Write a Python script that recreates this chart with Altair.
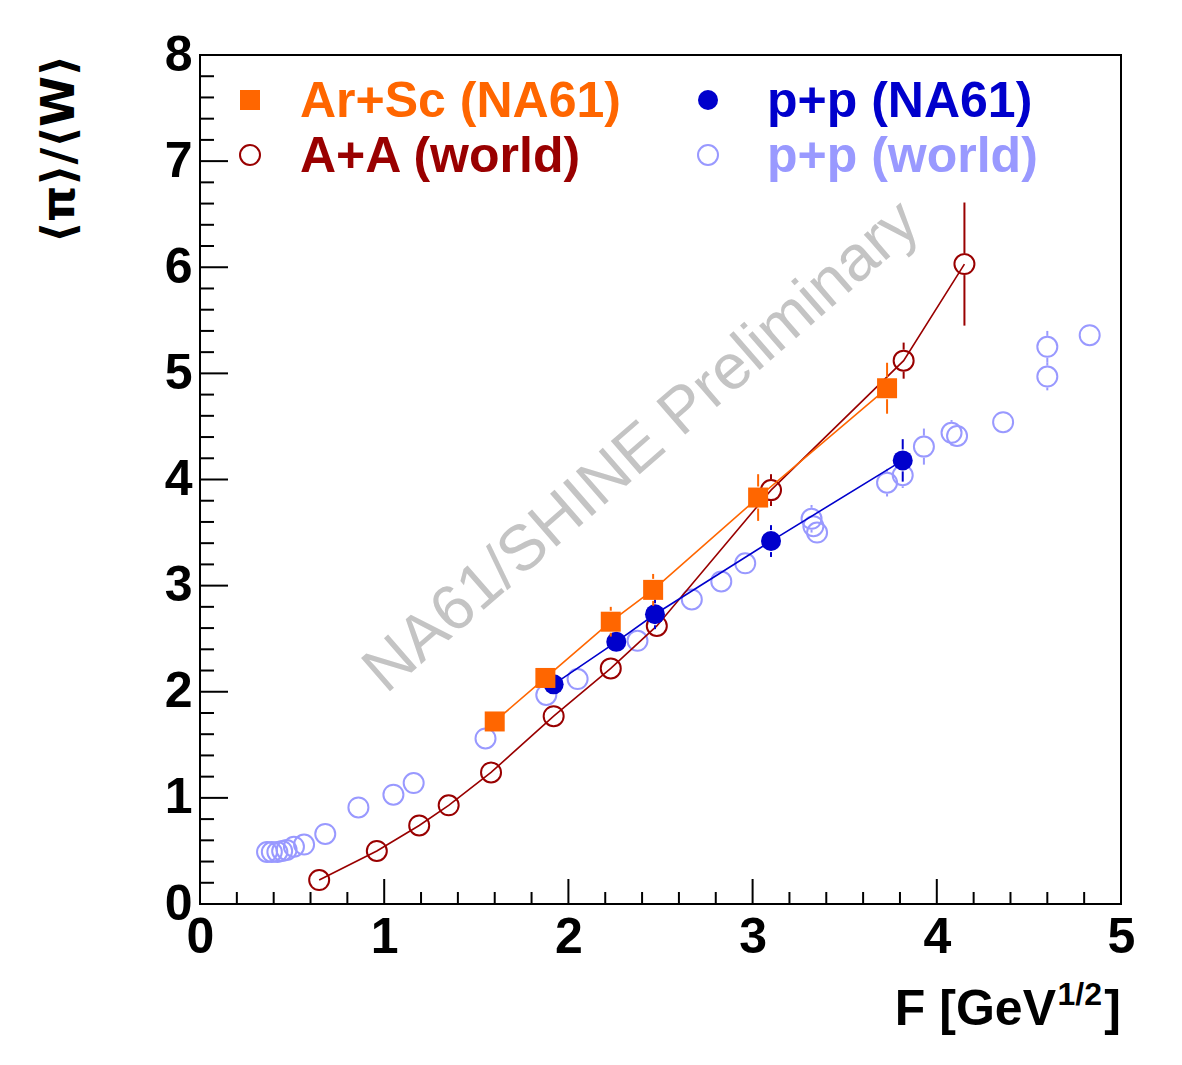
import altair as alt
import pandas as pd

# ---------------- data ----------------
# A+A (world)
aa_x = [0.647, 0.96, 1.19, 1.35, 1.58, 1.92, 2.23, 2.48, 3.10, 3.82, 4.15]
aa_y = [0.226, 0.50, 0.74, 0.93, 1.24, 1.77, 2.22, 2.62, 3.90, 5.12, 6.03]
aa_err = [0.02, 0.03, 0.03, 0.03, 0.04, 0.05, 0.06, 0.06, 0.15, 0.17, 0.58]

# Ar+Sc (NA61)
arsc_x = [1.60, 1.875, 2.23, 2.46, 3.03, 3.73]
arsc_y = [1.72, 2.13, 2.66, 2.96, 3.83, 4.86]
arsc_err = [0.06, 0.08, 0.14, 0.15, 0.22, 0.24]

# p+p (NA61)
pp_x = [1.92, 2.26, 2.47, 3.10, 3.815]
pp_y = [2.07, 2.47, 2.73, 3.42, 4.18]
pp_err = [0.05, 0.06, 0.14, 0.15, 0.20]

# p+p (world)
ppw_x = [0.364, 0.39, 0.42, 0.446, 0.47, 0.51, 0.565, 0.68, 0.86, 1.05, 1.16,
         1.55, 1.88, 2.05, 2.375, 2.67, 2.83, 2.96, 3.32, 3.33, 3.35, 3.73,
         3.815, 3.93, 4.08, 4.11, 4.36, 4.60, 4.60, 4.83]
ppw_y = [0.49, 0.49, 0.49, 0.50, 0.51, 0.54, 0.56, 0.66, 0.91, 1.03, 1.14,
         1.56, 1.97, 2.12, 2.48, 2.87, 3.04, 3.21, 3.63, 3.56, 3.50, 3.97,
         4.04, 4.31, 4.44, 4.41, 4.54, 4.97, 5.25, 5.36]
ppw_err = [0.01, 0.01, 0.01, 0.01, 0.01, 0.01, 0.01, 0.02, 0.03, 0.03, 0.04,
           0.05, 0.06, 0.06, 0.07, 0.08, 0.08, 0.09, 0.13, 0.10, 0.10, 0.13,
           0.12, 0.17, 0.12, 0.10, 0.10, 0.13, 0.15, 0.10]

x_major = [0, 1, 2, 3, 4, 5]
x_minor = [0.2, 0.4, 0.6, 0.8, 1.2, 1.4, 1.6, 1.8, 2.2, 2.4, 2.6, 2.8,
           3.2, 3.4, 3.6, 3.8, 4.2, 4.4, 4.6, 4.8]
y_major = [0, 1, 2, 3, 4, 5, 6, 7, 8]
y_minor = [0.2, 0.4, 0.6, 0.8, 1.2, 1.4, 1.6, 1.8, 2.2, 2.4, 2.6, 2.8,
           3.2, 3.4, 3.6, 3.8, 4.2, 4.4, 4.6, 4.8, 5.2, 5.4, 5.6, 5.8,
           6.2, 6.4, 6.6, 6.8, 7.2, 7.4, 7.6, 7.8]

legend_labels = ["Ar+Sc (NA61)", "A+A (world)", "p+p (NA61)", "p+p (world)"]
watermark = "NA61/SHINE Preliminary"

# ---------------- styling ----------------
W, H = 921, 849
FONT = "Liberation Sans"
C_ARSC = "#ff6600"
C_AA = "#990000"
C_PP = "#0000cc"
C_PPW = "#9999ff"
MSIZE = 400
R_UNITS = 11 * 8 / H  # marker radius in y units (for error bars outside markers)

xs = alt.Scale(domain=[0, 5], nice=False, zero=False)
ys = alt.Scale(domain=[0, 8], nice=False, zero=False)
xaxis = alt.Axis(values=x_major, ticks=False, domain=False, grid=False,
                 labelFont=FONT, labelFontWeight="bold", labelFontSize=50,
                 labelColor="black", labelPadding=8, labelOverlap=False,
                 labelFlush=False, labelBound=False, title=None, format="d")
yaxis = alt.Axis(values=y_major, ticks=False, domain=False, grid=False,
                 labelFont=FONT, labelFontWeight="bold", labelFontSize=50,
                 labelColor="black", labelPadding=8, labelOverlap=False,
                 labelFlush=False, labelBound=False, title=None, format="d")


def X(f):
    return alt.X(f, type="quantitative", scale=xs, axis=xaxis)


def Y(f):
    return alt.Y(f, type="quantitative", scale=ys, axis=yaxis)


def frame(xv, yv, ev):
    df = pd.DataFrame({"x": xv, "y": yv, "e": ev})
    df["i"] = range(len(df))
    return df


def errsegs(df):
    rows = []
    for _, r in df.iterrows():
        if r["e"] > R_UNITS:
            rows.append({"x": r["x"], "lo": r["y"] + R_UNITS, "hi": r["y"] + r["e"]})
            rows.append({"x": r["x"], "lo": r["y"] - r["e"], "hi": r["y"] - R_UNITS})
    if not rows:
        rows = [{"x": 0, "lo": 0, "hi": 0}]
    return pd.DataFrame(rows)


aa = frame(aa_x, aa_y, aa_err)
arsc = frame(arsc_x, arsc_y, arsc_err)
pp = frame(pp_x, pp_y, pp_err)
ppw = frame(ppw_x, ppw_y, ppw_err)

layers = []

# ticks (inside the frame, ROOT style)
layers.append(alt.Chart(pd.DataFrame({"v": x_major})).mark_rule(color="black", strokeWidth=2)
              .encode(x=X("v"), y=alt.value(H), y2=alt.value(H - 25)))
layers.append(alt.Chart(pd.DataFrame({"v": x_minor})).mark_rule(color="black", strokeWidth=2)
              .encode(x=X("v"), y=alt.value(H), y2=alt.value(H - 12)))
layers.append(alt.Chart(pd.DataFrame({"v": y_major})).mark_rule(color="black", strokeWidth=2)
              .encode(y=Y("v"), x=alt.value(0), x2=alt.value(28)))
layers.append(alt.Chart(pd.DataFrame({"v": y_minor})).mark_rule(color="black", strokeWidth=2)
              .encode(y=Y("v"), x=alt.value(0), x2=alt.value(14)))

# watermark
layers.append(alt.Chart(pd.DataFrame({"t": [watermark]})).mark_text(
    font=FONT, fontSize=64, color="#c4c4c4", angle=319, align="center", baseline="middle")
    .encode(text="t:N", x=alt.value(442), y=alt.value(392)))


def series(df, color, shape, filled, line):
    out = []
    if line:
        out.append(alt.Chart(df).mark_line(color=color, strokeWidth=1.6)
                   .encode(x=X("x"), y=Y("y"), order="i:Q"))
    out.append(alt.Chart(errsegs(df)).mark_rule(color=color, strokeWidth=2)
               .encode(x=X("x"), y=Y("lo"), y2="hi:Q"))
    out.append(alt.Chart(df).mark_point(shape=shape, filled=filled, size=MSIZE, color=color,
                                        opacity=1, strokeWidth=2)
               .encode(x=X("x"), y=Y("y")))
    return out


layers += series(ppw, C_PPW, "circle", False, False)
layers += series(aa, C_AA, "circle", False, True)
layers += series(pp, C_PP, "circle", True, True)
layers += series(arsc, C_ARSC, "square", True, True)

# legend
leg_items = [
    (legend_labels[0], C_ARSC, "square", True, 50, 45, 100),
    (legend_labels[1], C_AA, "circle", False, 50, 100, 100),
    (legend_labels[2], C_PP, "circle", True, 508, 45, 567),
    (legend_labels[3], C_PPW, "circle", False, 508, 100, 567),
]
for lab, col, shp, fil, mx, my, tx in leg_items:
    d = pd.DataFrame({"t": [lab]})
    layers.append(alt.Chart(d).mark_point(shape=shp, filled=fil, size=MSIZE, color=col,
                                          opacity=1, strokeWidth=2)
                  .encode(x=alt.value(mx), y=alt.value(my)))
    layers.append(alt.Chart(d).mark_text(font=FONT, fontWeight="bold", fontSize=50, color=col,
                                         align="left", baseline="middle")
                  .encode(text="t:N", x=alt.value(tx), y=alt.value(my + 2)))

# axis titles
layers.append(alt.Chart(pd.DataFrame({"t": ["F [GeV"]})).mark_text(
    font=FONT, fontWeight="bold", fontSize=50, color="black", align="right", baseline="alphabetic")
    .encode(text="t:N", x=alt.value(856), y=alt.value(970)))
layers.append(alt.Chart(pd.DataFrame({"t": ["1/2"]})).mark_text(
    font=FONT, fontWeight="bold", fontSize=32, color="black", align="right", baseline="alphabetic")
    .encode(text="t:N", x=alt.value(902), y=alt.value(950)))
layers.append(alt.Chart(pd.DataFrame({"t": ["]"]})).mark_text(
    font=FONT, fontWeight="bold", fontSize=50, color="black", align="right", baseline="alphabetic")
    .encode(text="t:N", x=alt.value(921), y=alt.value(970)))
layers.append(alt.Chart(pd.DataFrame({"t": ["⟨π⟩/⟨W⟩"]})).mark_text(
    font="DejaVu Sans", fontWeight="bold", fontSize=46, color="black", angle=270,
    align="right", baseline="middle")
    .encode(text="t:N", x=alt.value(-140), y=alt.value(0)))

chart = alt.layer(*layers).properties(
    width=W, height=H,
    autosize=alt.AutoSizeParams(type="none"),
    padding={"left": 200, "top": 55, "right": 61, "bottom": 161},
    background="white",
).configure_view(stroke="black", strokeWidth=2)

chart.save("out.html", embed_options={"renderer": "svg", "actions": False})
